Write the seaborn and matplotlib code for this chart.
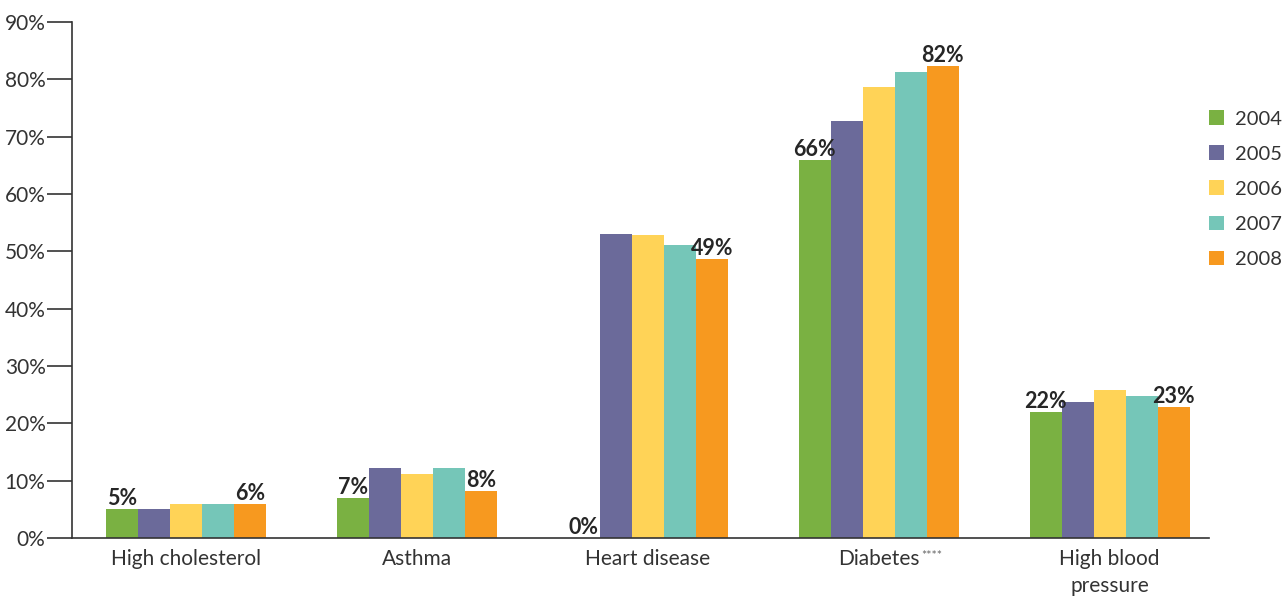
import matplotlib
matplotlib.use("Agg")
import matplotlib.pyplot as plt
import seaborn as sns
import pandas as pd

categories = ["High cholesterol", "Asthma", "Heart disease", "Diabetes", "High blood\npressure"]
years = ["2004", "2005", "2006", "2007", "2008"]
values = {
    "2004": [5.0, 7.0, 0.0, 66.0, 22.0],
    "2005": [5.0, 12.2, 53.0, 72.8, 23.8],
    "2006": [6.0, 11.2, 52.8, 78.7, 25.9],
    "2007": [6.0, 12.2, 51.1, 81.2, 24.8],
    "2008": [6.0, 8.2, 48.7, 82.4, 22.9],
}
labels_2004 = ["5%", "7%", "0%", "66%", "22%"]
labels_2008 = ["6%", "8%", "49%", "82%", "23%"]
colors = ["#7AB142", "#6B6A9A", "#FFD357", "#75C6B8", "#F7991F"]

rows = []
for y in years:
    for c, v in zip(categories, values[y]):
        rows.append({"category": c, "year": y, "value": v})
df = pd.DataFrame(rows)

sns.set_style("white")
plt.rcParams["font.family"] = ["Lato", "DejaVu Sans"]

fig = plt.figure(figsize=(12.83, 5.99), dpi=100)
ax = fig.add_axes([72 / 1283, 61 / 599, (1209 - 72) / 1283, (538 - 22) / 599])

sns.barplot(data=df, x="category", y="value", hue="year", palette=colors,
            width=0.693, saturation=1, ax=ax, errorbar=None, linewidth=0)

ax.set_ylim(0, 90)
ax.set_xlim(-0.494, 4.43)
ax.set_yticks(range(0, 91, 10))
ax.set_yticklabels([f"{t}%" for t in range(0, 91, 10)], fontsize=15, color="#333333")
ax.tick_params(axis="y", direction="out", length=18, width=1.2, color="#333333", pad=1, left=True)
ax.tick_params(axis="x", length=0, pad=8, labelsize=15, labelcolor="#333333")
for lab in ax.get_xticklabels():
    lab.set_linespacing(1.45)
ax.set_xlabel("")
ax.set_ylabel("")
for side in ["top", "right"]:
    ax.spines[side].set_visible(False)
for side in ["left", "bottom"]:
    ax.spines[side].set_color("#333333")
    ax.spines[side].set_linewidth(1.2)

# small stars after Diabetes
diab = ax.get_xticklabels()[3]
ax.annotate("****", xy=(1, 1), xycoords=diab, xytext=(1, -1), textcoords="offset points",
            ha="left", va="top", fontsize=9, color="#666666")

# value labels on first and last year bars
containers = ax.containers
ax.bar_label(containers[0], labels=labels_2004, fontsize=15.5, fontweight="bold", padding=0)
ax.bar_label(containers[-1], labels=labels_2008, fontsize=15.5, fontweight="bold", padding=0)

leg = ax.legend(loc="upper left", bbox_to_anchor=(1.0, 0.829), frameon=False,
                prop={"size": 14.5}, handlelength=0.75, handleheight=0.75,
                handletextpad=0.55, labelspacing=0.88, borderaxespad=0, borderpad=0)
for t in leg.get_texts():
    t.set_color("#333333")

fig.savefig("out.png", dpi=100)
